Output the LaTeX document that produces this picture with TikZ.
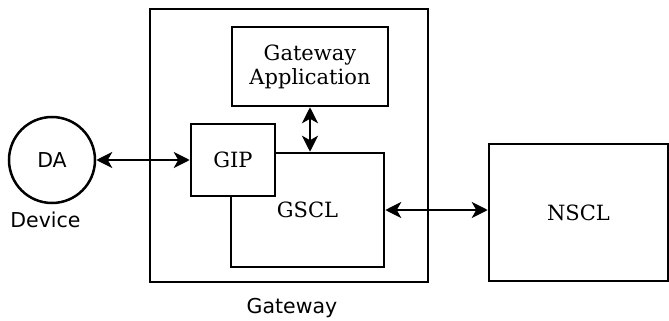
\documentclass[tikz,border=0pt]{standalone}
\usepackage{fontspec}
\setmainfont{DejaVu Serif}
\setsansfont{DejaVu Sans}
\usetikzlibrary{arrows.meta}
\begin{document}
\begin{tikzpicture}[x=1pt,y=-1pt,
  box/.style={draw,line width=2.5pt,rectangle,inner sep=0pt,fill=white,
    font=\fontsize{21}{24}\selectfont},
  lbl/.style={font=\sffamily\fontsize{20.5}{24}\selectfont,inner sep=0pt},
  link/.style={line width=2.5pt,{Stealth[length=16pt,width=16pt,inset=4.5pt]}-{Stealth[length=16pt,width=16pt,inset=4.5pt]}}]
\useasboundingbox (0,0) rectangle (669,321);
% gateway enclosure and its inner blocks
\node[box,minimum width=278pt,minimum height=273pt] (gw) at (289,145.5) {};
\node[box,minimum width=156pt,minimum height=79pt,align=center] (ga) at (310,66.5)
  {Gateway\\Application};
\node[box,minimum width=153pt,minimum height=114pt] (gscl) at (307.5,210) {GSCL};
\node[box,minimum width=84pt,minimum height=72pt] (gip) at (233,160) {GIP};
% network side
\node[box,minimum width=179pt,minimum height=137pt] (nscl) at (578.5,212.5) {NSCL};
% device application
\node[draw,circle,line width=2.5pt,minimum size=86pt,inner sep=0pt,
  font=\sffamily\fontsize{20.5}{24}\selectfont] (da) at (52,160) {DA};
\node[lbl,anchor=base] (dev) at (45.5,227) {Device};
\node[lbl,anchor=base] (gwl) at (292,313) {Gateway};
% reference points
\draw[link] (da.east) -- (gip.west);
\draw[link] (ga.south) -- (ga.south |- gscl.north);
\draw[link] (gscl.east) -- (gscl.east -| nscl.west);
\end{tikzpicture}
\end{document}
